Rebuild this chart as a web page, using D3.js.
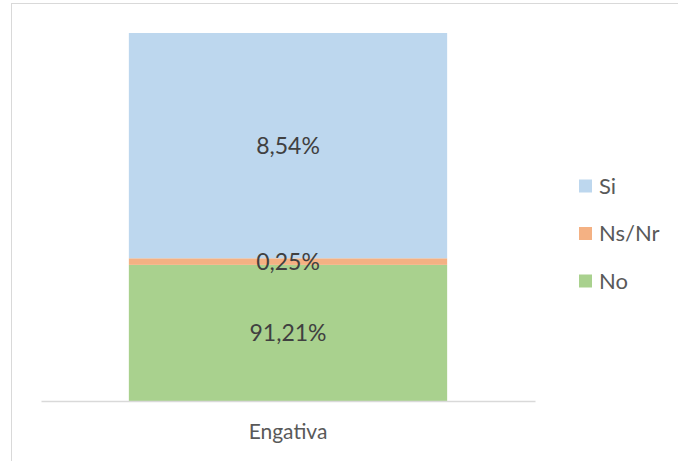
<!DOCTYPE html>
<html>
<head>
<meta charset="utf-8">
<script src="https://cdn.jsdelivr.net/npm/d3@7"></script>
<style>
  html, body { margin: 0; padding: 0; background: #fff; }
  svg { display: block; font-family: Lato, "Open Sans", sans-serif; }
</style>
</head>
<body>
<div id="chart"></div>
<script>
// data
const categories = ["Engativa"];
const seriesNames = ["No", "Ns/Nr", "Si"];
const seriesColors = ["#A9D18E", "#F4B183", "#BDD7EE"];
const noValues = [91.21];
const nsnrValues = [0.25];
const siValues = [8.54];
const legendOrder = ["Si", "Ns/Nr", "No"];

// the hidden value axis does not start at zero
const yMin = 86.05;
const yMax = 100;

const w = 678, h = 461;

const svg = d3.select("#chart").append("svg")
  .attr("width", w)
  .attr("height", h);

// chart area border (runs off the picture on the right and bottom)
svg.append("rect")
  .attr("x", 11.5).attr("y", 3.5)
  .attr("width", 700).attr("height", 500)
  .attr("fill", "none")
  .attr("stroke", "#D9D9D9");

const x = d3.scaleBand()
  .domain(categories)
  .range([41, 535])
  .paddingInner(0.355)
  .paddingOuter(0.178);

const y = d3.scaleLinear()
  .domain([yMin, yMax])
  .range([401, 33]);

const rows = categories.map((c, i) => ({
  cat: c,
  "No": noValues[i],
  "Ns/Nr": nsnrValues[i],
  "Si": siValues[i]
}));

const stacked = d3.stack().keys(seriesNames)(rows);
const color = d3.scaleOrdinal().domain(seriesNames).range(seriesColors);

// bars
const layers = svg.append("g").selectAll("g")
  .data(stacked)
  .join("g")
  .attr("fill", d => color(d.key));

layers.selectAll("rect")
  .data(d => d)
  .join("rect")
  .attr("x", d => x(d.data.cat))
  .attr("width", x.bandwidth())
  .attr("y", d => y(d[1]))
  .attr("height", d => y(Math.max(d[0], yMin)) - y(d[1]));

// data labels
const fmt = v => v.toFixed(2).replace(".", ",") + "%";
stacked.forEach(layer => {
  layer.forEach(d => {
    const mid = (y(Math.max(d[0], yMin)) + y(d[1])) / 2;
    svg.append("text")
      .attr("x", x(d.data.cat) + x.bandwidth() / 2)
      .attr("y", mid)
      .attr("dy", "0.35em")
      .attr("text-anchor", "middle")
      .attr("font-size", 23)
      .attr("fill", "#404040")
      .text(fmt(d.data[layer.key]));
  });
});

// category axis
const xAxis = svg.append("g")
  .attr("transform", "translate(0,401)")
  .call(d3.axisBottom(x).tickSize(0).tickPadding(23));
xAxis.select(".domain").attr("stroke", "#D9D9D9").attr("stroke-width", 1.3);
xAxis.selectAll("text")
  .attr("font-family", "Lato, 'Open Sans', sans-serif")
  .attr("font-size", 21)
  .attr("fill", "#595959");

// legend
const legend = svg.append("g").attr("transform", "translate(579,0)");
const ly = d3.scalePoint().domain(legendOrder).range([186, 281]);
legendOrder.forEach(name => {
  legend.append("rect")
    .attr("x", 0)
    .attr("y", ly(name) - 6.5)
    .attr("width", 13).attr("height", 13)
    .attr("fill", color(name));
  legend.append("text")
    .attr("x", 20)
    .attr("y", ly(name))
    .attr("dy", "0.35em")
    .attr("font-size", 22)
    .attr("fill", "#595959")
    .text(name);
});
</script>
</body>
</html>
